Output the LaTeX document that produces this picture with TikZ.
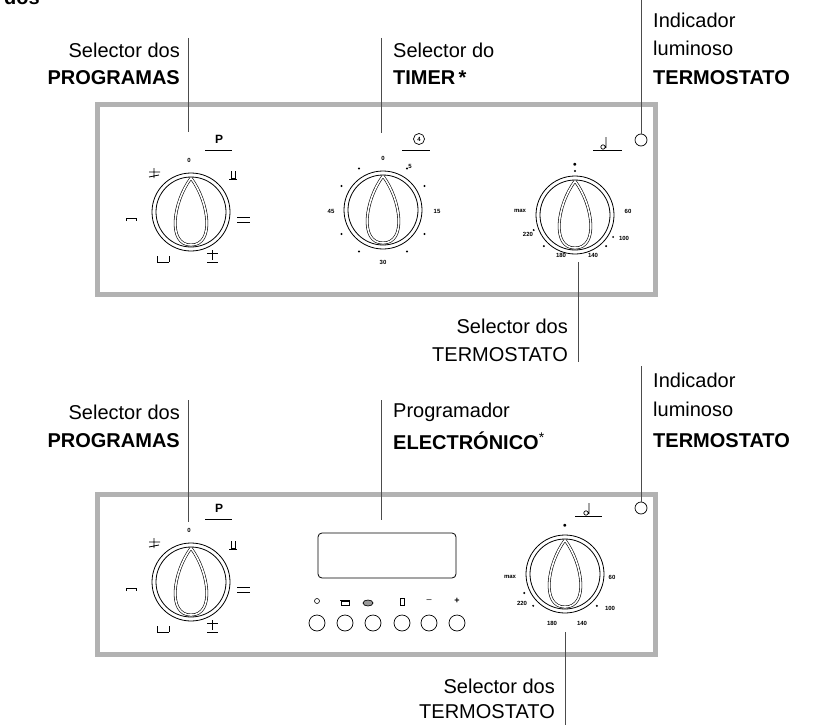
\documentclass[tikz,border=0pt]{standalone}
\usepackage{fontspec}
\setmainfont{Liberation Sans}
\usetikzlibrary{positioning,calc}

\tikzset{
  panel/.style={draw=black!30,line width=5pt},
  callout/.style={draw=black!70,line width=0.8pt},
  lbl/.style={inner sep=0pt,font=\fontsize{20}{24}\selectfont},
  blbl/.style={inner sep=0pt,font=\fontsize{20}{24}\selectfont\bfseries},
  tiny/.style={inner sep=0pt,font=\fontsize{6}{7}\selectfont\bfseries},
  dot/.style={fill=black,circle,inner sep=0pt,minimum size=2.2pt},
  knob/.pic={
    \draw[line width=0.8pt] (0,0) circle (39);
    \draw[line width=0.8pt] (0,0) circle (35);
    \draw[line width=0.6pt,double distance=1.6pt] (0,-34) .. controls (-18,-10) and (-24,33) .. (0,33)
      .. controls (24,33) and (18,-10) .. (0,-34);
  }
}

\begin{document}
\begin{tikzpicture}[x=1pt,y=-1pt]
  \useasboundingbox (0,0) rectangle (833,725);
  \node[blbl,anchor=north west] (hd) at (4,-10) {dos};

  % ---- upper panel
  \draw[panel] (97,104) rectangle (655,294);

  % callouts, upper
  \node[lbl,anchor=east] (p1a) at (180,50) {Selector dos};
  \node[blbl,anchor=east] (p1b) at (180,78) {PROGRAMAS};
  \coordinate (p1t) at (188,38);
  \coordinate (p1e) at (188,132);
  \draw[callout] (p1t) -- (p1e);

  \node[lbl,anchor=west] (t1a) at (393,50) {Selector do};
  \node[blbl,anchor=west] (t1b) at (393,78) {TIMER\,*};
  \coordinate (t1t) at (381,38);
  \coordinate (t1e) at (381,133);
  \draw[callout] (t1t) -- (t1e);

  \node[lbl,anchor=west] (i1a) at (653,20) {Indicador};
  \node[lbl,anchor=west] (i1b) at (653,48) {luminoso};
  \node[blbl,anchor=west] (i1c) at (653,78) {TERMOSTATO};
  \coordinate (i1t) at (641,0);
  \node[draw,circle,minimum size=12pt,inner sep=0pt,line width=0.7pt] (led1) at (641,140) {};
  \draw[callout] (i1t) -- (led1);

  \node[lbl,anchor=east] (s1a) at (568,326) {Selector dos};
  \node[lbl,anchor=east] (s1b) at (568,355) {TERMOSTATO};
  \coordinate (s1t) at (578,262);
  \coordinate (s1e) at (578,362);
  \draw[callout] (s1t) -- (s1e);

  % programme knob, upper
  \pic at (191,212) {knob};
  \node[font=\bfseries\large,inner sep=0pt] (pp1) at (219,139) {P};
  \draw (205,150) -- (232,150);
  \node[tiny] (z1) at (189,160) {0};
  \draw[line width=0.8pt] (149,172) -- (160,172) (154,168) -- (154,178) (149,177) -- (159,175);
  \draw[line width=0.7pt] (231,171) -- (231,178) -- (235,178) -- (235,171) (229,179) -- (237,179);
  \draw[line width=0.7pt] (237,217) -- (250,217) (237,222) -- (250,222);
  \draw[line width=0.7pt] (126,221) -- (126,218) -- (136,218) -- (136,221);
  \draw[line width=0.7pt] (157,256) -- (157,262) -- (169,262) (169,256) -- (169,262);
  \draw[line width=0.8pt] (207,253) -- (218,253) (212,250) -- (212,260) (207,262) -- (218,262);

  % timer knob
  \pic at (383,210) {knob};
  \node[draw,circle,inner sep=0pt,minimum size=11pt,line width=0.7pt] (clk) at (419,139) {};
  \node[tiny] at (clk) {4};
  \draw (402,150) -- (430,150);
  \node[tiny] at (383,158) {0};
  \node[tiny] at (410,166) {5};
  \node[tiny] at (437,211) {15};
  \node[tiny] at (383,262) {30};
  \node[tiny] at (331,211) {45};
  \foreach \a in {-60,-30,30,60,120,150,210,240}
    \node[dot] at ($(383,210)+(\a:48)$) {};

  % thermostat knob, upper
  \pic at (575,215) {knob};
  \draw (593,150) -- (622,150);
  \draw[line width=0.7pt] (606,137) -- (606,148) (603,147) circle (2.2);
  \node[tiny,font=\fontsize{7}{8}\selectfont] at (575,165) {$\bullet$};
  \node[tiny] at (520,211) {max};
  \node[tiny] at (628,211) {60};
  \node[tiny] at (528,234) {220};
  \node[tiny] at (624,238) {100};
  \node[tiny] at (561,255) {180};
  \node[tiny] at (593,255) {140};
  \foreach \a in {225,210,-45,-20,90}
    \node[dot] at ($(575,215)+(\a:-44)$) {};

  % ---- lower panel
  \draw[panel] (97,494) rectangle (655,654);

  \node[lbl,anchor=east] (p2a) at (180,412) {Selector dos};
  \node[blbl,anchor=east] (p2b) at (180,441) {PROGRAMAS};
  \coordinate (p2t) at (188,400);
  \coordinate (p2e) at (188,522);
  \draw[callout] (p2t) -- (p2e);

  \node[lbl,anchor=west] (e2a) at (393,412) {Programador};
  \node[blbl,anchor=west] (e2b) at (393,441) {ELECTRÓNICO\textsuperscript{\mdseries*}};
  \coordinate (e2t) at (381,400);
  \coordinate (e2e) at (381,520);
  \draw[callout] (e2t) -- (e2e);

  \node[lbl,anchor=west] (i2a) at (653,380) {Indicador};
  \node[lbl,anchor=west] (i2b) at (653,409) {luminoso};
  \node[blbl,anchor=west] (i2c) at (653,441) {TERMOSTATO};
  \coordinate (i2t) at (641,366);
  \node[draw,circle,minimum size=12pt,inner sep=0pt,line width=0.7pt] (led2) at (641,508) {};
  \draw[callout] (i2t) -- (led2);

  \node[lbl,anchor=east] (s2a) at (555,686) {Selector dos};
  \node[lbl,anchor=east] (s2b) at (555,712) {TERMOSTATO};
  \coordinate (s2t) at (565,632);
  \coordinate (s2e) at (565,725);
  \draw[callout] (s2t) -- (s2e);

  % programme knob, lower
  \pic at (191,582) {knob};
  \node[font=\bfseries\large,inner sep=0pt] at (219,508) {P};
  \draw (205,519) -- (232,519);
  \node[tiny] at (189,530) {0};
  \draw[line width=0.8pt] (149,542) -- (160,542) (154,538) -- (154,548) (149,547) -- (159,545);
  \draw[line width=0.7pt] (231,541) -- (231,548) -- (235,548) -- (235,541) (229,549) -- (237,549);
  \draw[line width=0.7pt] (237,587) -- (250,587) (237,592) -- (250,592);
  \draw[line width=0.7pt] (126,591) -- (126,588) -- (136,588) -- (136,591);
  \draw[line width=0.7pt] (157,626) -- (157,632) -- (169,632) (169,626) -- (169,632);
  \draw[line width=0.8pt] (207,623) -- (218,623) (212,620) -- (212,630) (207,632) -- (218,632);

  % programmer display and keys
  \draw[line width=0.8pt,rounded corners=4pt] (318,533) rectangle (456,578);
  \foreach \i/\x in {1/317,2/345,3/373,4/402,5/429,6/457}
    \node[draw,circle,minimum size=16pt,inner sep=0pt,line width=0.7pt] (k\i) at (\x,623) {};
  \draw[line width=0.6pt] (k1)+(0,-22) circle (2.5);
  \draw[line width=0.7pt] (340,600) -- (350,600) (341,601) rectangle (349,605);
  \draw[line width=0.7pt,fill=black!40] (368,603) ellipse (5 and 3);
  \draw[line width=0.7pt] (400,598) rectangle (404,605);
  \node[inner sep=0pt,font=\small] at (429,601) {--};
  \node[inner sep=0pt,font=\small\bfseries] at (457,601) {+};

  % thermostat knob, lower
  \pic at (565,574) {knob};
  \draw (575,516) -- (602,516);
  \draw[line width=0.7pt] (589,503) -- (589,514) (586,513) circle (2.2);
  \node[tiny,font=\fontsize{7}{8}\selectfont] at (565,526) {$\bullet$};
  \node[tiny] at (510,577) {max};
  \node[tiny] at (612,577) {60};
  \node[tiny] at (522,603) {220};
  \node[tiny] at (610,608) {100};
  \node[tiny] at (552,623) {180};
  \node[tiny] at (582,623) {140};
  \foreach \a in {225,-45,-25}
    \node[dot] at ($(565,574)+(\a:-45)$) {};
\end{tikzpicture}
\end{document}
